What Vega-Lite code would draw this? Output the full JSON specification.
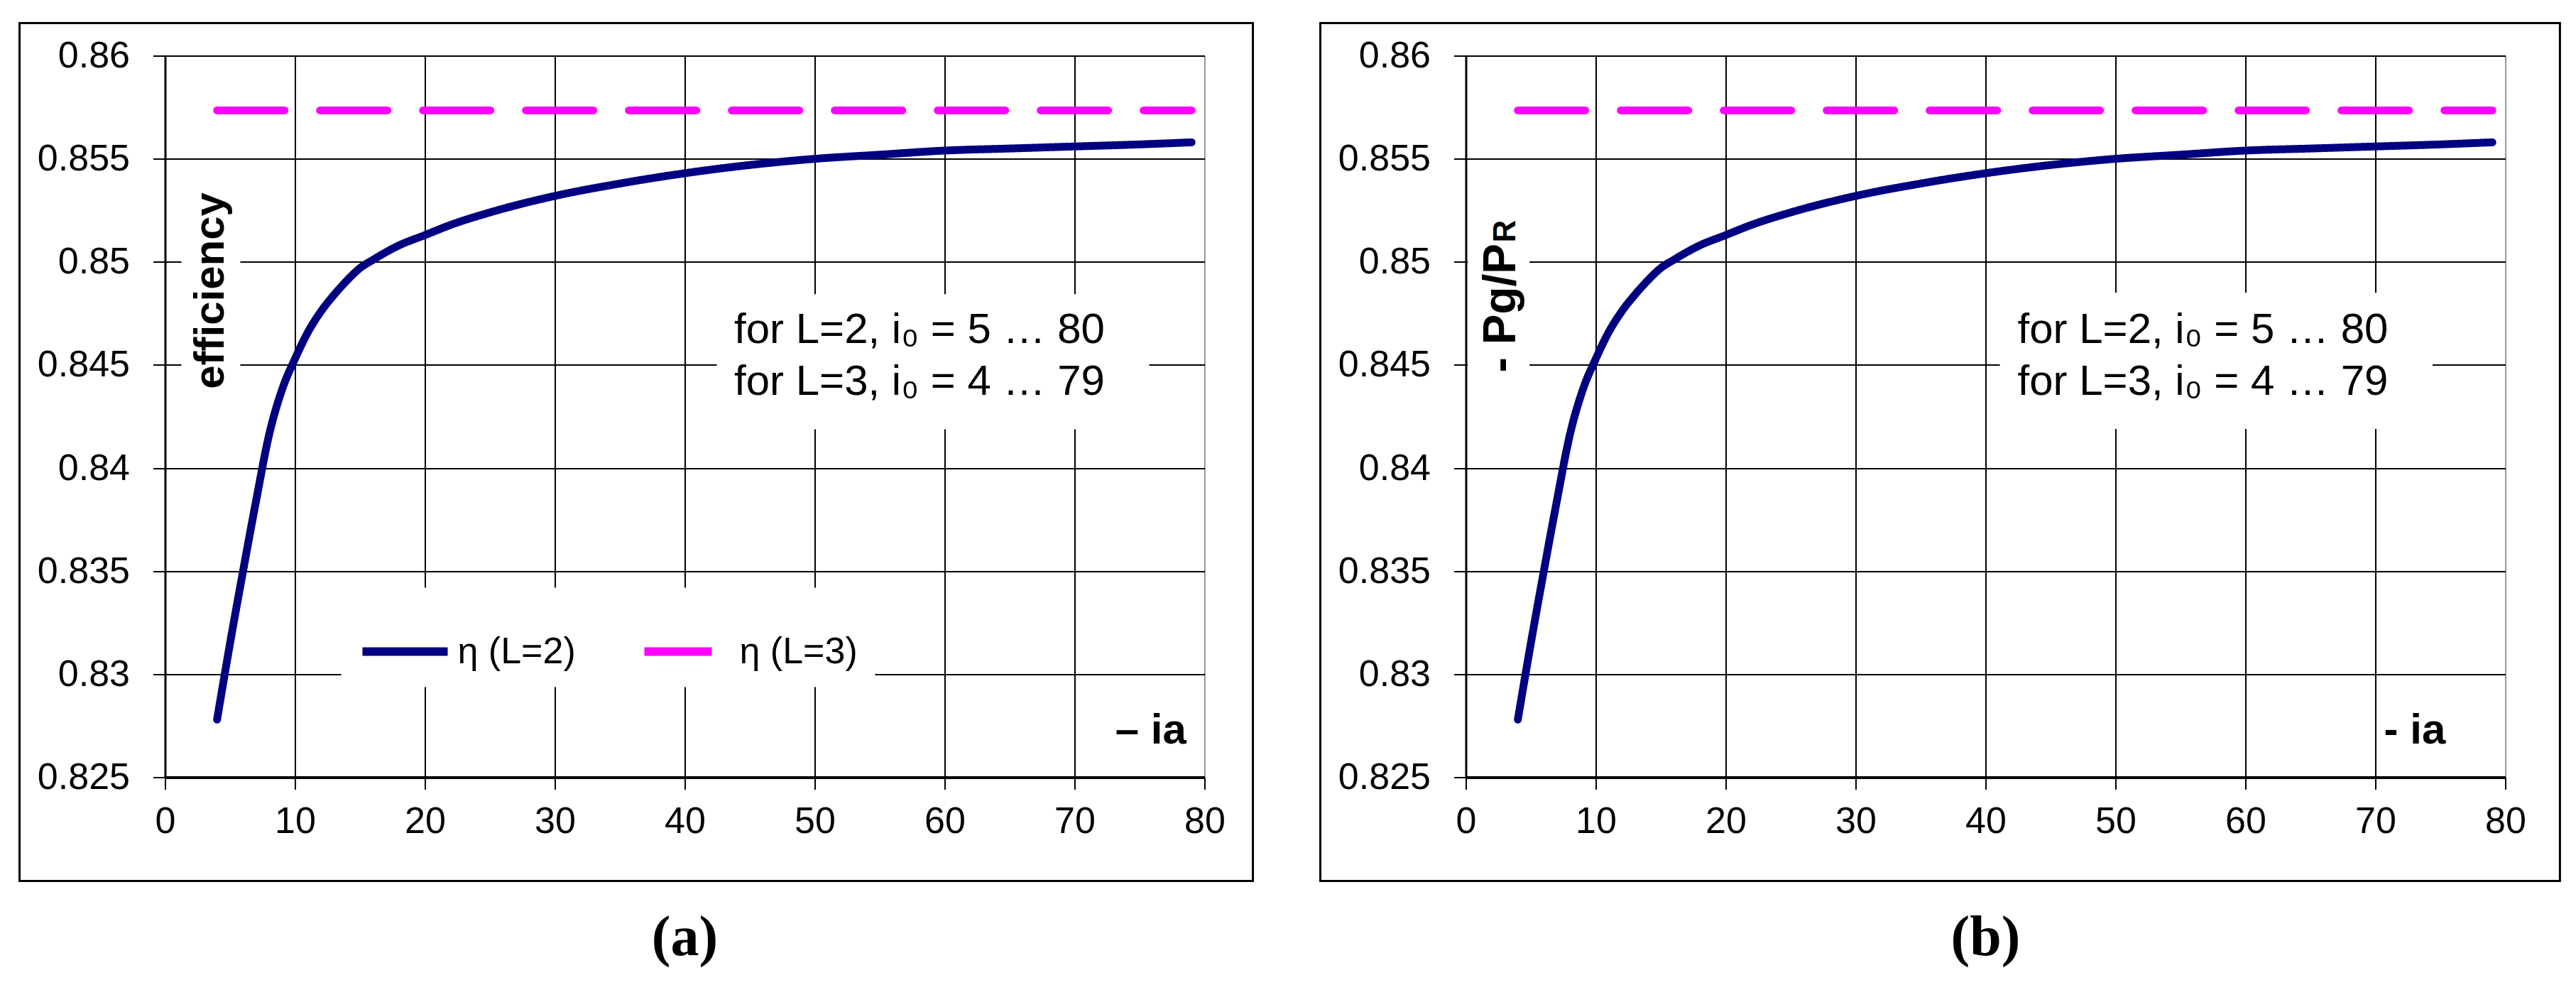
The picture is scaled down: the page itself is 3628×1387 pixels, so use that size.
{
  "$schema": "https://vega.github.io/schema/vega-lite/v6.json",
  "background": "white",
  "padding": {"left": 25.5, "top": 30.5, "right": 5, "bottom": 5},
  "spacing": 91,
  "datasets": {
    "curves": [
      {"i_a": 4, "value": 0.8278, "series": "L=2"},
      {"i_a": 5, "value": 0.8315, "series": "L=2"},
      {"i_a": 6, "value": 0.8350, "series": "L=2"},
      {"i_a": 7, "value": 0.8384, "series": "L=2"},
      {"i_a": 8, "value": 0.8416, "series": "L=2"},
      {"i_a": 9, "value": 0.8438, "series": "L=2"},
      {"i_a": 10, "value": 0.8453, "series": "L=2"},
      {"i_a": 11, "value": 0.8466, "series": "L=2"},
      {"i_a": 12, "value": 0.8476, "series": "L=2"},
      {"i_a": 13, "value": 0.8484, "series": "L=2"},
      {"i_a": 14, "value": 0.8491, "series": "L=2"},
      {"i_a": 15, "value": 0.8497, "series": "L=2"},
      {"i_a": 16, "value": 0.8501, "series": "L=2"},
      {"i_a": 18, "value": 0.8508, "series": "L=2"},
      {"i_a": 20, "value": 0.8513, "series": "L=2"},
      {"i_a": 22, "value": 0.8518, "series": "L=2"},
      {"i_a": 25, "value": 0.8524, "series": "L=2"},
      {"i_a": 30, "value": 0.8532, "series": "L=2"},
      {"i_a": 35, "value": 0.8538, "series": "L=2"},
      {"i_a": 40, "value": 0.8543, "series": "L=2"},
      {"i_a": 45, "value": 0.8547, "series": "L=2"},
      {"i_a": 50, "value": 0.8550, "series": "L=2"},
      {"i_a": 55, "value": 0.8552, "series": "L=2"},
      {"i_a": 60, "value": 0.8554, "series": "L=2"},
      {"i_a": 65, "value": 0.8555, "series": "L=2"},
      {"i_a": 70, "value": 0.8556, "series": "L=2"},
      {"i_a": 75, "value": 0.8557, "series": "L=2"},
      {"i_a": 79, "value": 0.8558, "series": "L=2"},
      {"i_a": 4, "value": 0.85735, "series": "L=3"},
      {"i_a": 10, "value": 0.85735, "series": "L=3"},
      {"i_a": 20, "value": 0.85735, "series": "L=3"},
      {"i_a": 30, "value": 0.85735, "series": "L=3"},
      {"i_a": 40, "value": 0.85735, "series": "L=3"},
      {"i_a": 50, "value": 0.85735, "series": "L=3"},
      {"i_a": 60, "value": 0.85735, "series": "L=3"},
      {"i_a": 70, "value": 0.85735, "series": "L=3"},
      {"i_a": 79, "value": 0.85735, "series": "L=3"}
    ]
  },
  "hconcat": [
    {
      "width": 1464,
      "height": 1016,
      "title": {"text": "(a)"},
      "encoding": {
        "x": {"type": "quantitative", "title": null, "scale": {"domain": [0, 80], "nice": false, "zero": false},
          "axis": {"grid": true, "values": [0, 10, 20, 30, 40, 50, 60, 70, 80], "format": "d", "labelPadding": 20, "tickSize": 17, "domainWidth": 4,
            "gridColor": {"condition": {"test": "datum.value >= 80", "value": "#9a9a9a"}, "value": "#000"}}},
        "y": {"type": "quantitative", "title": null, "scale": {"domain": [0.825, 0.86], "nice": false, "zero": false},
          "axis": {"grid": true, "values": [0.825, 0.83, 0.835, 0.84, 0.845, 0.85, 0.855, 0.86], "format": ".3~f", "labelPadding": 33, "tickSize": 17, "domainWidth": 3}}
      },
      "layer": [
        {
          "data": {"values": [{}]},
          "mark": {"type": "rect", "filled": false, "stroke": "#000", "strokeWidth": 3},
          "encoding": {"x": {"datum": -11.2}, "x2": {"datum": 83.72}, "y": {"datum": 0.861585}, "y2": {"datum": 0.81997}}
        },
        {
          "data": {"values": [{}]},
          "mark": {"type": "rect", "fill": "#fff", "stroke": null},
          "encoding": {"x": {"datum": 1.26}, "x2": {"datum": 5.79}, "y": {"datum": 0.85407}, "y2": {"datum": 0.84236}}
        },
        {
          "data": {"values": [{}]},
          "mark": {"type": "rect", "fill": "#fff", "stroke": null},
          "encoding": {"x": {"datum": 42.46}, "x2": {"datum": 75.74}, "y": {"datum": 0.84843}, "y2": {"datum": 0.84188}}
        },
        {
          "data": {"name": "curves"},
          "mark": {"type": "line", "strokeWidth": 11, "strokeCap": "round", "strokeJoin": "round", "interpolate": "monotone"},
          "encoding": {
            "x": {"field": "i_a"},
            "y": {"field": "value"},
            "color": {
              "field": "series", "type": "nominal",
              "scale": {"domain": ["L=2", "L=3"], "range": ["#000080", "#FF00FF"]},
              "legend": {
                "orient": "none", "legendX": 248, "legendY": 749, "direction": "horizontal", "columns": 2,
                "title": null, "symbolType": "stroke", "symbolSize": 14400, "symbolStrokeWidth": 12,
                "labelOffset": 8, "columnPadding": 72, "padding": 24, "fillColor": "#fff",
                "labelExpr": "'η (' + datum.label + ')'"
              }
            },
            "strokeDash": {
              "field": "series", "type": "nominal",
              "scale": {"domain": ["L=2", "L=3"], "range": [[1, 0], [95, 50]]},
              "legend": null
            }
          }
        },
        {
          "data": {"values": [{}]},
          "mark": {"type": "text", "text": "efficiency", "angle": 270, "align": "center", "baseline": "middle", "font": "Liberation Sans", "fontSize": 60, "fontWeight": "bold", "color": "#000"},
          "encoding": {"x": {"datum": 3.55}, "y": {"datum": 0.8486}}
        },
        {
          "data": {"values": [{}]},
          "mark": {"type": "text", "text": ["for L=2, i₀ = 5 … 80", "for L=3, i₀ = 4 … 79"], "lineHeight": 73, "align": "center", "baseline": "alphabetic", "font": "Liberation Sans", "fontSize": 60, "color": "#000"},
          "encoding": {"x": {"datum": 58.06}, "y": {"datum": 0.84605}}
        },
        {
          "data": {"values": [{}]},
          "mark": {"type": "text", "text": "– ia", "align": "right", "baseline": "alphabetic", "font": "Liberation Sans", "fontSize": 60, "fontWeight": "bold", "color": "#000"},
          "encoding": {"x": {"datum": 78.6}, "y": {"datum": 0.82662}}
        }
      ]
    },
    {
      "width": 1464,
      "height": 1016,
      "title": {"text": "(b)"},
      "encoding": {
        "x": {"type": "quantitative", "title": null, "scale": {"domain": [0, 80], "nice": false, "zero": false},
          "axis": {"grid": true, "values": [0, 10, 20, 30, 40, 50, 60, 70, 80], "format": "d", "labelPadding": 20, "tickSize": 17, "domainWidth": 4,
            "gridColor": {"condition": {"test": "datum.value >= 80", "value": "#9a9a9a"}, "value": "#000"}}},
        "y": {"type": "quantitative", "title": null, "scale": {"domain": [0.825, 0.86], "nice": false, "zero": false},
          "axis": {"grid": true, "values": [0.825, 0.83, 0.835, 0.84, 0.845, 0.85, 0.855, 0.86], "format": ".3~f", "labelPadding": 33, "tickSize": 17, "domainWidth": 3}}
      },
      "layer": [
        {
          "data": {"values": [{}]},
          "mark": {"type": "rect", "filled": false, "stroke": "#000", "strokeWidth": 3},
          "encoding": {"x": {"datum": -11.2}, "x2": {"datum": 84.2}, "y": {"datum": 0.861585}, "y2": {"datum": 0.81997}}
        },
        {
          "data": {"values": [{}]},
          "mark": {"type": "rect", "fill": "#fff", "stroke": null},
          "encoding": {"x": {"datum": 0.15}, "x2": {"datum": 4.9}, "y": {"datum": 0.8533}, "y2": {"datum": 0.8434}}
        },
        {
          "data": {"values": [{}]},
          "mark": {"type": "rect", "fill": "#fff", "stroke": null},
          "encoding": {"x": {"datum": 41.1}, "x2": {"datum": 74.4}, "y": {"datum": 0.8485}, "y2": {"datum": 0.8419}}
        },
        {
          "data": {"name": "curves"},
          "mark": {"type": "line", "strokeWidth": 11, "strokeCap": "round", "strokeJoin": "round", "interpolate": "monotone"},
          "encoding": {
            "x": {"field": "i_a"},
            "y": {"field": "value"},
            "color": {
              "field": "series", "type": "nominal",
              "scale": {"domain": ["L=2", "L=3"], "range": ["#000080", "#FF00FF"]},
              "legend": {
                "orient": "none", "legendX": 330, "legendY": 745, "direction": "horizontal", "columns": 2,
                "title": null, "symbolType": "stroke", "symbolSize": 14400, "symbolStrokeWidth": 12,
                "labelOffset": 8, "columnPadding": 56, "padding": 24, "fillColor": "#fff"
              }
            },
            "strokeDash": {
              "field": "series", "type": "nominal",
              "scale": {"domain": ["L=2", "L=3"], "range": [[1, 0], [95, 50]]},
              "legend": null
            }
          }
        },
        {
          "data": {"values": [{}]},
          "mark": {"type": "text", "text": "- Pg/P", "angle": 270, "align": "left", "baseline": "alphabetic", "font": "Liberation Sans", "fontSize": 64, "fontWeight": "bold", "color": "#000"},
          "encoding": {"x": {"datum": 3.8}, "y": {"datum": 0.84464}}
        },
        {
          "data": {"values": [{}]},
          "mark": {"type": "text", "text": "R", "angle": 270, "align": "left", "baseline": "alphabetic", "dx": 183, "font": "Liberation Sans", "fontSize": 44, "fontWeight": "bold", "color": "#000"},
          "encoding": {"x": {"datum": 3.8}, "y": {"datum": 0.84464}}
        },
        {
          "data": {"values": [{}]},
          "mark": {"type": "text", "text": ["for L=2, i₀ = 5 … 80", "for L=3, i₀ = 4 … 79"], "lineHeight": 73, "align": "center", "baseline": "alphabetic", "font": "Liberation Sans", "fontSize": 60, "color": "#000"},
          "encoding": {"x": {"datum": 56.72}, "y": {"datum": 0.84605}}
        },
        {
          "data": {"values": [{}]},
          "mark": {"type": "text", "text": "- ia", "align": "right", "baseline": "alphabetic", "font": "Liberation Sans", "fontSize": 60, "fontWeight": "bold", "color": "#000"},
          "encoding": {"x": {"datum": 75.4}, "y": {"datum": 0.82662}}
        }
      ]
    }
  ],
  "config": {
    "font": "Liberation Sans",
    "view": {"stroke": null},
    "axis": {
      "labelFont": "Liberation Sans", "labelFontSize": 52, "labelColor": "#000",
      "labelFlush": false, "labelOverlap": false,
      "tickColor": "#000", "tickWidth": 2,
      "domainColor": "#000",
      "gridColor": "#000", "gridWidth": 2, "gridOpacity": 1
    },
    "legend": {
      "labelFont": "Liberation Sans", "labelFontSize": 52, "labelColor": "#000", "labelLimit": 0, "symbolOpacity": 1
    },
    "title": {
      "font": "Liberation Serif", "fontSize": 80, "fontWeight": "bold", "color": "#000",
      "orient": "bottom", "offset": 40, "anchor": "middle"
    }
  }
}
